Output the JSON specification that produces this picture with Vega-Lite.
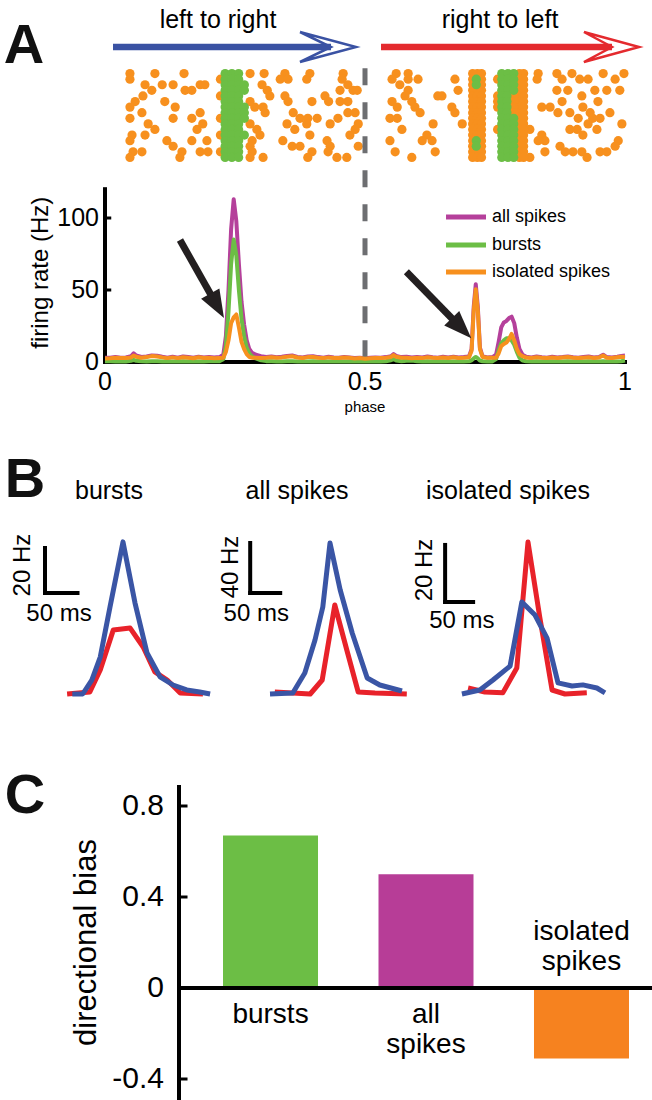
{
"$schema":"https://vega.github.io/schema/vega-lite/v6.json",
"width":652,"height":1100,
"autosize":{"type":"none"},
"padding":0,
"background":"white",
"config":{"font":"Liberation Sans","view":{"stroke":null},"axis":{"grid":false}},
"datasets":{
"rate":[
{"p":0,"a":3,"b":0.5,"i":2.5},{"p":0.01,"a":3,"b":0.5,"i":2.6},{"p":0.02,"a":3.4,"b":0.4,"i":3},{"p":0.03,"a":3,"b":0.3,"i":2.7},{"p":0.04,"a":3.2,"b":0.4,"i":2.8},{"p":0.05,"a":4,"b":0.8,"i":3.2},{"p":0.055,"a":6,"b":1.5,"i":4.5},{"p":0.06,"a":4.5,"b":0.8,"i":3.7},{"p":0.07,"a":3.5,"b":0.5,"i":3},{"p":0.08,"a":3.8,"b":0.4,"i":3.4},{"p":0.09,"a":4.6,"b":0.5,"i":4.1},{"p":0.1,"a":4.4,"b":0.6,"i":3.8},{"p":0.11,"a":3.6,"b":0.4,"i":3.2},{"p":0.12,"a":3,"b":0.3,"i":2.7},{"p":0.13,"a":3.6,"b":0.4,"i":3.2},{"p":0.14,"a":3,"b":0.3,"i":2.7},{"p":0.15,"a":3.8,"b":0.5,"i":3.3},{"p":0.16,"a":3.4,"b":0.4,"i":3},{"p":0.17,"a":2.9,"b":0.3,"i":2.6},{"p":0.18,"a":3.7,"b":0.4,"i":3.3},{"p":0.19,"a":3.2,"b":0.4,"i":2.8},{"p":0.2,"a":3.5,"b":0.5,"i":3},{"p":0.21,"a":3.1,"b":0.5,"i":2.6},{"p":0.22,"a":3.4,"b":0.6,"i":2.8},{"p":0.2275,"a":5,"b":2,"i":3},{"p":0.2325,"a":18,"b":11,"i":7},{"p":0.2375,"a":50,"b":35,"i":15},{"p":0.2425,"a":92,"b":68,"i":27},{"p":0.2475,"a":113,"b":85,"i":31},{"p":0.2525,"a":98,"b":74,"i":33},{"p":0.2575,"a":68,"b":50,"i":24},{"p":0.2625,"a":42,"b":30,"i":14},{"p":0.2675,"a":26,"b":18,"i":9},{"p":0.2725,"a":15,"b":10,"i":5.5},{"p":0.2775,"a":9,"b":6,"i":3.5},{"p":0.2825,"a":6.5,"b":4,"i":3},{"p":0.29,"a":5,"b":2.5,"i":3},{"p":0.3,"a":4,"b":1.2,"i":2.8},{"p":0.31,"a":3.5,"b":0.6,"i":2.9},{"p":0.32,"a":3.8,"b":0.5,"i":3.3},{"p":0.33,"a":3.3,"b":0.4,"i":2.9},{"p":0.34,"a":3.6,"b":0.4,"i":3.2},{"p":0.35,"a":4.2,"b":0.5,"i":3.7},{"p":0.36,"a":4.5,"b":0.5,"i":4},{"p":0.37,"a":3.5,"b":0.4,"i":3.1},{"p":0.38,"a":3.1,"b":0.3,"i":2.8},{"p":0.39,"a":3.8,"b":0.4,"i":3.4},{"p":0.4,"a":4,"b":0.5,"i":3.5},{"p":0.41,"a":3.4,"b":0.4,"i":3},{"p":0.42,"a":3,"b":0.3,"i":2.7},{"p":0.43,"a":3.6,"b":0.4,"i":3.2},{"p":0.44,"a":3.2,"b":0.4,"i":2.8},{"p":0.45,"a":3,"b":0.3,"i":2.7},{"p":0.46,"a":3.5,"b":0.4,"i":3.1},{"p":0.47,"a":3.2,"b":0.3,"i":2.9},{"p":0.48,"a":2.8,"b":0.3,"i":2.5},{"p":0.49,"a":3,"b":0.3,"i":2.7},{"p":0.5,"a":2.6,"b":0.3,"i":2.3},{"p":0.51,"a":2.9,"b":0.3,"i":2.6},{"p":0.52,"a":3.2,"b":0.4,"i":2.8},{"p":0.53,"a":3,"b":0.3,"i":2.7},{"p":0.54,"a":3.4,"b":0.5,"i":2.9},{"p":0.55,"a":4,"b":1.2,"i":3.5},{"p":0.555,"a":5.5,"b":2,"i":4.8},{"p":0.56,"a":4.2,"b":1,"i":3.6},{"p":0.57,"a":3.4,"b":0.5,"i":2.9},{"p":0.58,"a":3.6,"b":0.8,"i":3},{"p":0.59,"a":3.2,"b":1,"i":2.6},{"p":0.6,"a":3.5,"b":0.5,"i":3},{"p":0.61,"a":3.1,"b":0.4,"i":2.7},{"p":0.62,"a":3.8,"b":0.5,"i":3.3},{"p":0.63,"a":3.3,"b":0.4,"i":2.9},{"p":0.64,"a":3,"b":0.3,"i":2.7},{"p":0.65,"a":3.6,"b":0.5,"i":3.1},{"p":0.66,"a":3.2,"b":0.4,"i":2.8},{"p":0.67,"a":3.7,"b":0.4,"i":3.3},{"p":0.68,"a":3.1,"b":0.3,"i":2.8},{"p":0.69,"a":3.4,"b":0.4,"i":3},{"p":0.7,"a":3.8,"b":0.5,"i":3.3},{"p":0.705,"a":9,"b":1.2,"i":7.8},{"p":0.709,"a":38,"b":2.5,"i":35.5},{"p":0.713,"a":54,"b":3.5,"i":50.5},{"p":0.717,"a":38,"b":2.5,"i":35.5},{"p":0.721,"a":10,"b":1,"i":9},{"p":0.726,"a":4,"b":0.5,"i":3.5},{"p":0.735,"a":3.2,"b":0.3,"i":2.9},{"p":0.745,"a":3.4,"b":0.4,"i":3},{"p":0.752,"a":5,"b":2,"i":3},{"p":0.757,"a":14,"b":8,"i":6},{"p":0.762,"a":24,"b":13,"i":11},{"p":0.767,"a":27.5,"b":15,"i":12.5},{"p":0.772,"a":28.5,"b":16.5,"i":13.5},{"p":0.777,"a":30.5,"b":16.5,"i":16},{"p":0.782,"a":31.5,"b":15,"i":19.5},{"p":0.787,"a":27,"b":12,"i":15},{"p":0.792,"a":17,"b":7,"i":9},{"p":0.797,"a":9,"b":3,"i":5.5},{"p":0.803,"a":5,"b":1,"i":4},{"p":0.81,"a":3.6,"b":0.5,"i":3.1},{"p":0.82,"a":3.2,"b":0.4,"i":2.8},{"p":0.83,"a":3.8,"b":0.5,"i":3.3},{"p":0.84,"a":3.3,"b":0.4,"i":2.9},{"p":0.85,"a":3,"b":0.3,"i":2.7},{"p":0.86,"a":3.6,"b":0.5,"i":3.1},{"p":0.87,"a":3.2,"b":0.4,"i":2.8},{"p":0.88,"a":3.5,"b":0.4,"i":3.1},{"p":0.89,"a":3.9,"b":0.5,"i":3.4},{"p":0.9,"a":3.3,"b":0.4,"i":2.9},{"p":0.91,"a":3,"b":0.3,"i":2.7},{"p":0.92,"a":3.4,"b":0.4,"i":3},{"p":0.93,"a":3.8,"b":0.5,"i":3.3},{"p":0.94,"a":3.1,"b":0.3,"i":2.8},{"p":0.95,"a":3.5,"b":0.4,"i":3.1},{"p":0.958,"a":5,"b":0.5,"i":4.5},{"p":0.965,"a":3.4,"b":0.4,"i":3},{"p":0.975,"a":3.2,"b":0.4,"i":2.8},{"p":0.985,"a":3.7,"b":0.4,"i":3.3},{"p":0.993,"a":4.2,"b":0.5,"i":3.7},{"p":1,"a":4.5,"b":1,"i":3.5}
],
"iso":[
{"p":0.048,"t":1},{"p":0.096,"t":1},{"p":0.152,"t":1},{"p":0.306,"t":1},{"p":0.346,"t":1},{"p":0.394,"t":1},{"p":0.458,"t":1},{"p":0.56,"t":1},{"p":0.583,"t":1},{"p":0.833,"t":1},{"p":0.869,"t":1},{"p":0.898,"t":1},{"p":0.958,"t":1},{"p":0.998,"t":1},
{"p":0.048,"t":2},{"p":0.077,"t":3},{"p":0.11,"t":3},{"p":0.131,"t":3},{"p":0.183,"t":3},{"p":0.192,"t":3},{"p":0.09,"t":4},{"p":0.073,"t":5},{"p":0.058,"t":6},{"p":0.048,"t":7},{"p":0.115,"t":6},{"p":0.154,"t":4},{"p":0.167,"t":4},{"p":0.071,"t":8},{"p":0.048,"t":9},{"p":0.135,"t":7},{"p":0.131,"t":9},{"p":0.183,"t":8},{"p":0.167,"t":9},{"p":0.083,"t":10},{"p":0.096,"t":11},{"p":0.052,"t":12},{"p":0.077,"t":12},{"p":0.119,"t":13},{"p":0.177,"t":11},{"p":0.188,"t":10},{"p":0.167,"t":13},{"p":0.048,"t":13},{"p":0.054,"t":15},{"p":0.071,"t":15},{"p":0.131,"t":14},{"p":0.148,"t":15},{"p":0.183,"t":15},{"p":0.198,"t":15},{"p":0.048,"t":16},{"p":0.144,"t":16},{"p":0.196,"t":13},
{"p":0.302,"t":3},{"p":0.312,"t":4},{"p":0.317,"t":5},{"p":0.337,"t":2},{"p":0.352,"t":2},{"p":0.388,"t":2},{"p":0.346,"t":5},{"p":0.352,"t":6},{"p":0.398,"t":6},{"p":0.423,"t":5},{"p":0.43,"t":6},{"p":0.452,"t":4},{"p":0.456,"t":2},{"p":0.467,"t":3},{"p":0.477,"t":4},{"p":0.485,"t":4},{"p":0.452,"t":6},{"p":0.467,"t":6},{"p":0.288,"t":7},{"p":0.304,"t":7},{"p":0.308,"t":8},{"p":0.362,"t":8},{"p":0.375,"t":9},{"p":0.39,"t":9},{"p":0.408,"t":9},{"p":0.35,"t":10},{"p":0.365,"t":11},{"p":0.388,"t":10},{"p":0.433,"t":10},{"p":0.448,"t":9},{"p":0.467,"t":8},{"p":0.481,"t":8},{"p":0.487,"t":10},{"p":0.481,"t":11},{"p":0.292,"t":11},{"p":0.298,"t":12},{"p":0.342,"t":13},{"p":0.36,"t":14},{"p":0.375,"t":14},{"p":0.394,"t":12},{"p":0.427,"t":13},{"p":0.433,"t":14},{"p":0.398,"t":15},{"p":0.39,"t":16},{"p":0.429,"t":15},{"p":0.446,"t":16},{"p":0.465,"t":16},{"p":0.487,"t":14},{"p":0.471,"t":12},{"p":0.304,"t":16},{"p":0.283,"t":13},{"p":0.283,"t":15},
{"p":0.552,"t":2},{"p":0.567,"t":3},{"p":0.583,"t":2},{"p":0.602,"t":2},{"p":0.673,"t":2},{"p":0.583,"t":4},{"p":0.577,"t":5},{"p":0.59,"t":6},{"p":0.552,"t":6},{"p":0.562,"t":7},{"p":0.596,"t":7},{"p":0.606,"t":8},{"p":0.64,"t":5},{"p":0.648,"t":5},{"p":0.679,"t":4},{"p":0.667,"t":7},{"p":0.673,"t":8},{"p":0.687,"t":10},{"p":0.548,"t":9},{"p":0.562,"t":9},{"p":0.571,"t":11},{"p":0.631,"t":10},{"p":0.619,"t":12},{"p":0.629,"t":13},{"p":0.61,"t":13},{"p":0.548,"t":13},{"p":0.558,"t":15},{"p":0.635,"t":15},{"p":0.59,"t":16},
{"p":0.831,"t":2},{"p":0.879,"t":2},{"p":0.913,"t":2},{"p":0.929,"t":2},{"p":0.981,"t":2},{"p":0.869,"t":4},{"p":0.89,"t":4},{"p":0.917,"t":5},{"p":0.942,"t":4},{"p":0.965,"t":4},{"p":0.99,"t":4},{"p":0.84,"t":7},{"p":0.856,"t":7},{"p":0.871,"t":8},{"p":0.894,"t":8},{"p":0.879,"t":6},{"p":0.919,"t":7},{"p":0.933,"t":8},{"p":0.948,"t":6},{"p":0.971,"t":8},{"p":0.91,"t":9},{"p":0.938,"t":9},{"p":0.952,"t":9},{"p":0.994,"t":10},{"p":0.817,"t":11},{"p":0.894,"t":11},{"p":0.908,"t":11},{"p":0.929,"t":10},{"p":0.946,"t":11},{"p":0.919,"t":12},{"p":0.987,"t":13},{"p":0.84,"t":12},{"p":0.846,"t":13},{"p":0.833,"t":13},{"p":0.875,"t":14},{"p":0.885,"t":15},{"p":0.9,"t":15},{"p":0.917,"t":15},{"p":0.927,"t":16},{"p":0.846,"t":15},{"p":0.952,"t":15},{"p":0.965,"t":15},{"p":0.981,"t":14},{"p":0.817,"t":16},
{"p":0.222,"t":2},{"p":0.222,"t":5},{"p":0.222,"t":9},{"p":0.222,"t":12},{"p":0.222,"t":15},{"p":0.279,"t":1},{"p":0.279,"t":6},{"p":0.279,"t":10},{"p":0.279,"t":14},{"p":0.279,"t":16},
{"p":0.707,"t":1},{"p":0.716,"t":1},{"p":0.724,"t":1},{"p":0.707,"t":2},{"p":0.716,"t":2},{"p":0.724,"t":2},{"p":0.707,"t":3},{"p":0.716,"t":3},{"p":0.724,"t":3},{"p":0.707,"t":4},{"p":0.716,"t":4},{"p":0.724,"t":4},{"p":0.707,"t":5},{"p":0.716,"t":5},{"p":0.724,"t":5},{"p":0.707,"t":6},{"p":0.716,"t":6},{"p":0.724,"t":6},{"p":0.707,"t":7},{"p":0.716,"t":7},{"p":0.724,"t":7},{"p":0.707,"t":8},{"p":0.716,"t":8},{"p":0.724,"t":8},{"p":0.707,"t":9},{"p":0.716,"t":9},{"p":0.724,"t":9},{"p":0.707,"t":10},{"p":0.716,"t":10},{"p":0.724,"t":10},{"p":0.707,"t":11},{"p":0.716,"t":11},{"p":0.724,"t":11},{"p":0.707,"t":12},{"p":0.716,"t":12},{"p":0.724,"t":12},{"p":0.707,"t":13},{"p":0.716,"t":13},{"p":0.724,"t":13},{"p":0.707,"t":14},{"p":0.716,"t":14},{"p":0.724,"t":14},{"p":0.707,"t":15},{"p":0.716,"t":15},{"p":0.724,"t":15},{"p":0.707,"t":16},{"p":0.716,"t":16},{"p":0.724,"t":16},
{"p":0.797,"t":1},{"p":0.805,"t":1},{"p":0.797,"t":2},{"p":0.805,"t":2},{"p":0.797,"t":3},{"p":0.805,"t":3},{"p":0.797,"t":4},{"p":0.805,"t":4},{"p":0.797,"t":5},{"p":0.805,"t":5},{"p":0.797,"t":6},{"p":0.805,"t":6},{"p":0.797,"t":7},{"p":0.805,"t":7},{"p":0.797,"t":8},{"p":0.805,"t":8},{"p":0.797,"t":9},{"p":0.805,"t":9},{"p":0.797,"t":10},{"p":0.805,"t":10},{"p":0.797,"t":11},{"p":0.805,"t":11},{"p":0.797,"t":12},{"p":0.805,"t":12},{"p":0.797,"t":13},{"p":0.805,"t":13},{"p":0.797,"t":14},{"p":0.805,"t":14},{"p":0.797,"t":15},{"p":0.805,"t":15},{"p":0.797,"t":16},{"p":0.805,"t":16},
{"p":0.786,"t":5},{"p":0.786,"t":6},{"p":0.786,"t":7},{"p":0.786,"t":8},{"p":0.755,"t":2},{"p":0.755,"t":5},{"p":0.755,"t":6},{"p":0.755,"t":7},{"p":0.755,"t":11}
],
"burst":[
{"p":0.231,"t":1},{"p":0.244,"t":1},{"p":0.257,"t":1},{"p":0.231,"t":2},{"p":0.244,"t":2},{"p":0.257,"t":2},{"p":0.231,"t":3},{"p":0.244,"t":3},{"p":0.257,"t":3},{"p":0.231,"t":4},{"p":0.244,"t":4},{"p":0.257,"t":4},{"p":0.231,"t":5},{"p":0.244,"t":5},{"p":0.257,"t":5},{"p":0.231,"t":6},{"p":0.244,"t":6},{"p":0.257,"t":6},{"p":0.231,"t":7},{"p":0.244,"t":7},{"p":0.257,"t":7},{"p":0.231,"t":8},{"p":0.244,"t":8},{"p":0.257,"t":8},{"p":0.231,"t":9},{"p":0.244,"t":9},{"p":0.257,"t":9},{"p":0.231,"t":10},{"p":0.244,"t":10},{"p":0.257,"t":10},{"p":0.231,"t":11},{"p":0.244,"t":11},{"p":0.257,"t":11},{"p":0.231,"t":12},{"p":0.244,"t":12},{"p":0.257,"t":12},{"p":0.231,"t":13},{"p":0.244,"t":13},{"p":0.257,"t":13},{"p":0.231,"t":14},{"p":0.244,"t":14},{"p":0.257,"t":14},{"p":0.231,"t":15},{"p":0.244,"t":15},{"p":0.257,"t":15},{"p":0.231,"t":16},{"p":0.244,"t":16},{"p":0.257,"t":16},
{"p":0.268,"t":3},{"p":0.268,"t":4},{"p":0.268,"t":7},{"p":0.268,"t":8},{"p":0.268,"t":9},{"p":0.268,"t":12},
{"p":0.714,"t":2},{"p":0.714,"t":3},{"p":0.714,"t":13},{"p":0.714,"t":14},
{"p":0.763,"t":1},{"p":0.775,"t":1},{"p":0.786,"t":1},{"p":0.763,"t":2},{"p":0.775,"t":2},{"p":0.786,"t":2},{"p":0.763,"t":3},{"p":0.775,"t":3},{"p":0.786,"t":3},{"p":0.763,"t":4},{"p":0.775,"t":4},{"p":0.786,"t":4},{"p":0.763,"t":5},{"p":0.773,"t":5},{"p":0.763,"t":6},{"p":0.773,"t":6},{"p":0.763,"t":7},{"p":0.773,"t":7},{"p":0.763,"t":8},{"p":0.773,"t":8},{"p":0.763,"t":9},{"p":0.775,"t":9},{"p":0.786,"t":9},{"p":0.763,"t":10},{"p":0.775,"t":10},{"p":0.786,"t":10},{"p":0.763,"t":11},{"p":0.775,"t":11},{"p":0.786,"t":11},{"p":0.763,"t":12},{"p":0.775,"t":12},{"p":0.786,"t":12},{"p":0.763,"t":13},{"p":0.775,"t":13},{"p":0.786,"t":13},{"p":0.763,"t":14},{"p":0.775,"t":14},{"p":0.786,"t":14},{"p":0.763,"t":15},{"p":0.775,"t":15},{"p":0.786,"t":15},{"p":0.763,"t":16},{"p":0.775,"t":16},{"p":0.786,"t":16}
],
"psth":[
{"g":"bursts","d":"L","ms":-78,"hz":0},{"g":"bursts","d":"L","ms":-62,"hz":0},{"g":"bursts","d":"L","ms":-48,"hz":6.2},{"g":"bursts","d":"L","ms":-35,"hz":16.4},{"g":"bursts","d":"L","ms":-20,"hz":38.7},{"g":"bursts","d":"L","ms":0,"hz":67.6},{"g":"bursts","d":"L","ms":18.5,"hz":40.4},{"g":"bursts","d":"L","ms":37,"hz":18.2},{"g":"bursts","d":"L","ms":57,"hz":7.6},{"g":"bursts","d":"L","ms":77,"hz":4},{"g":"bursts","d":"L","ms":98,"hz":1.8},{"g":"bursts","d":"L","ms":118,"hz":0.9},{"g":"bursts","d":"L","ms":134,"hz":0},
{"g":"bursts","d":"R","ms":-86,"hz":0},{"g":"bursts","d":"R","ms":-51,"hz":0.9},{"g":"bursts","d":"R","ms":-35,"hz":10.7},{"g":"bursts","d":"R","ms":-15,"hz":28.4},{"g":"bursts","d":"R","ms":11,"hz":29.3},{"g":"bursts","d":"R","ms":31,"hz":20.9},{"g":"bursts","d":"R","ms":49,"hz":9.8},{"g":"bursts","d":"R","ms":68,"hz":6.2},{"g":"bursts","d":"R","ms":88,"hz":0.4},{"g":"bursts","d":"R","ms":123,"hz":0},
{"g":"all","d":"L","ms":-100,"hz":0},{"g":"all","d":"L","ms":-62,"hz":0.8},{"g":"all","d":"L","ms":-42,"hz":16.8},{"g":"all","d":"L","ms":-25,"hz":43.2},{"g":"all","d":"L","ms":-12,"hz":69.6},{"g":"all","d":"L","ms":0,"hz":120.8},{"g":"all","d":"L","ms":17,"hz":83.2},{"g":"all","d":"L","ms":37,"hz":48.8},{"g":"all","d":"L","ms":62,"hz":12.8},{"g":"all","d":"L","ms":83,"hz":7.2},{"g":"all","d":"L","ms":120,"hz":2.4},
{"g":"all","d":"R","ms":-92,"hz":1.6},{"g":"all","d":"R","ms":-33,"hz":0},{"g":"all","d":"R","ms":-13,"hz":11.2},{"g":"all","d":"R","ms":8,"hz":71.2},{"g":"all","d":"R","ms":28,"hz":35.2},{"g":"all","d":"R","ms":47,"hz":1.6},{"g":"all","d":"R","ms":75,"hz":0.8},{"g":"all","d":"R","ms":128,"hz":0},
{"g":"iso","d":"R","ms":-107,"hz":2.1},{"g":"iso","d":"R","ms":-77,"hz":0.7},{"g":"iso","d":"R","ms":-45,"hz":0.4},{"g":"iso","d":"R","ms":-20,"hz":9.1},{"g":"iso","d":"R","ms":0,"hz":53.3},{"g":"iso","d":"R","ms":21,"hz":27},{"g":"iso","d":"R","ms":43,"hz":1.4},{"g":"iso","d":"R","ms":66,"hz":0},{"g":"iso","d":"R","ms":105,"hz":0.4},
{"g":"iso","d":"L","ms":-118,"hz":0},{"g":"iso","d":"L","ms":-86,"hz":1.4},{"g":"iso","d":"L","ms":-62.5,"hz":4.9},{"g":"iso","d":"L","ms":-32,"hz":9.8},{"g":"iso","d":"L","ms":-11,"hz":32.3},{"g":"iso","d":"L","ms":12.5,"hz":27.7},{"g":"iso","d":"L","ms":34,"hz":19.6},{"g":"iso","d":"L","ms":53.6,"hz":3.9},{"g":"iso","d":"L","ms":78.6,"hz":2.8},{"g":"iso","d":"L","ms":98,"hz":3.2},{"g":"iso","d":"L","ms":123,"hz":2.1},{"g":"iso","d":"L","ms":137.5,"hz":0.4}
],
"bars":[
{"g":"bursts","ms":-120,"ms2":-120,"hz":44.9,"hz2":64.9},{"g":"bursts","ms":-120,"ms2":-70,"hz":44.9,"hz2":44.9},
{"g":"all","ms":-133,"ms2":-133,"hz":80.8,"hz2":120.8},{"g":"all","ms":-133,"ms2":-83,"hz":80.8,"hz2":80.8},
{"g":"iso","ms":-148,"ms2":-148,"hz":32.3,"hz2":52.3},{"g":"iso","ms":-148,"ms2":-98,"hz":32.3,"hz2":32.3}
],
"btext":[
{"g":"bursts","k":"h","ms":-98.5,"hz":32.4,"txt":"50 ms"},{"g":"bursts","k":"v","ms":-154,"hz":57.3,"txt":"20 Hz"},{"g":"bursts","k":"title","ms":-21.5,"hz":86.7,"txt":"bursts"},
{"g":"all","k":"h","ms":-123,"hz":58.4,"txt":"50 ms"},{"g":"all","k":"v","ms":-165,"hz":101.6,"txt":"40 Hz"},{"g":"all","k":"title","ms":-55,"hz":156,"txt":"all spikes"},
{"g":"iso","k":"h","ms":-118,"hz":23.2,"txt":"50 ms"},{"g":"iso","k":"v","ms":-184,"hz":43.5,"txt":"20 Hz"},{"g":"iso","k":"title","ms":-35.7,"hz":68.4,"txt":"isolated spikes"}
],
"bias":[{"cat":"bursts","v":0.67},{"cat":"all spikes","v":0.5},{"cat":"isolated spikes","v":-0.31}]
},
"resolve":{"scale":{"x":"independent","y":"independent","color":"independent"}},
"layer":[
{
"layer":[
{"data":{"values":[{"c":"L","p":0.0154,"p2":0.4346,"y":0},{"c":"R","p":0.5308,"p2":0.975,"y":0}]},
"mark":{"type":"rule","strokeWidth":6.5},
"encoding":{"x":{"field":"p","type":"quantitative","scale":{"domain":[0,1],"range":[105,625],"nice":false},"axis":null},"x2":{"field":"p2"},"y":{"field":"y","type":"quantitative","scale":{"domain":[-1,1],"range":[62,32],"nice":false},"axis":null},"color":{"field":"c","type":"nominal","scale":{"domain":["L","R"],"range":["#3A52A3","#E42A2E"]},"legend":null}}},
{"data":{"values":[{"c":"L","i":0,"p":0.375,"y":1},{"c":"L","i":1,"p":0.4827,"y":0},{"c":"L","i":2,"p":0.375,"y":-1},{"c":"L","i":3,"p":0.4346,"y":0},{"c":"L","i":4,"p":0.375,"y":1},{"c":"R","i":0,"p":0.921,"y":1},{"c":"R","i":1,"p":1.027,"y":0},{"c":"R","i":2,"p":0.921,"y":-1},{"c":"R","i":3,"p":0.975,"y":0},{"c":"R","i":4,"p":0.921,"y":1}]},
"mark":{"type":"line","strokeWidth":2.5,"strokeJoin":"miter"},
"encoding":{"x":{"field":"p","type":"quantitative","scale":{"domain":[0,1],"range":[105,625],"nice":false},"axis":null},"y":{"field":"y","type":"quantitative","scale":{"domain":[-1,1],"range":[62,32],"nice":false},"axis":null},"color":{"field":"c","type":"nominal","scale":{"domain":["L","R"],"range":["#3A52A3","#E42A2E"]},"legend":null},"order":{"field":"i","type":"quantitative"}}},
{"data":{"values":[{"txt":"left to right","p":0.2173,"y":1.267},{"txt":"right to left","p":0.7596,"y":1.267}]},
"mark":{"type":"text","fontSize":25,"align":"center","baseline":"alphabetic","color":"black"},
"encoding":{"x":{"field":"p","type":"quantitative","scale":{"domain":[0,1],"range":[105,625],"nice":false},"axis":null},"y":{"field":"y","type":"quantitative","scale":{"domain":[-1,1],"range":[62,32],"nice":false},"axis":null},"text":{"field":"txt"}}},
{"data":{"values":[{"txt":"A","p":-0.1558,"y":-1.067}]},
"mark":{"type":"text","fontSize":56,"fontWeight":"bold","align":"center","baseline":"alphabetic","color":"#111111"},
"encoding":{"x":{"field":"p","type":"quantitative","scale":{"domain":[0,1],"range":[105,625],"nice":false},"axis":null},"y":{"field":"y","type":"quantitative","scale":{"domain":[-1,1],"range":[62,32],"nice":false},"axis":null},"text":{"field":"txt"}}}
]
},
{
"layer":[
{"data":{"name":"iso"},"mark":{"type":"circle","size":85,"color":"#F7901E","opacity":1},
"encoding":{"x":{"field":"p","type":"quantitative","scale":{"domain":[0,1],"range":[105,625],"nice":false},"axis":null},"y":{"field":"t","type":"quantitative","scale":{"domain":[0,17],"range":[68,163],"nice":false},"axis":null}}},
{"data":{"name":"burst"},"mark":{"type":"circle","size":85,"color":"#6CBE45","opacity":1},
"encoding":{"x":{"field":"p","type":"quantitative","scale":{"domain":[0,1],"range":[105,625],"nice":false},"axis":null},"y":{"field":"t","type":"quantitative","scale":{"domain":[0,17],"range":[68,163],"nice":false},"axis":null}}}
]
},
{
"layer":[
{"data":{"values":[{"p":0,"p2":0,"hz":0,"hz2":120},{"p":0,"p2":1,"hz":0,"hz2":0}]},"mark":{"type":"rule","strokeWidth":4,"color":"black","strokeCap":"square"},
"encoding":{"x":{"field":"p","type":"quantitative","scale":{"domain":[0,1],"range":[105,625],"nice":false},"axis":null},"x2":{"field":"p2"},"y":{"field":"hz","type":"quantitative","scale":{"domain":[0,120],"range":[362,189.2],"nice":false,"zero":false},"axis":null},"y2":{"field":"hz2"}}},
{"data":{"values":[{"p":0,"p2":0.012,"hz":50},{"p":0,"p2":0.012,"hz":100}]},"mark":{"type":"rule","strokeWidth":3,"color":"black"},
"encoding":{"x":{"field":"p","type":"quantitative","scale":{"domain":[0,1],"range":[105,625],"nice":false},"axis":null},"x2":{"field":"p2"},"y":{"field":"hz","type":"quantitative","scale":{"domain":[0,120],"range":[362,189.2],"nice":false,"zero":false},"axis":null}}},
{"data":{"values":[{"hz":0,"lab":"0"},{"hz":50,"lab":"50"},{"hz":100,"lab":"100"}]},"mark":{"type":"text","align":"right","baseline":"middle","dx":-6,"fontSize":25,"color":"black"},
"encoding":{"x":{"datum":0,"type":"quantitative","scale":{"domain":[0,1],"range":[105,625],"nice":false},"axis":null},"y":{"field":"hz","type":"quantitative","scale":{"domain":[0,120],"range":[362,189.2],"nice":false,"zero":false},"axis":null},"text":{"field":"lab"}}},
{"data":{"values":[{"p":0,"lab":"0"},{"p":0.5,"lab":"0.5"},{"p":1,"lab":"1"}]},"mark":{"type":"text","align":"center","baseline":"top","dy":8,"fontSize":25,"color":"black"},
"encoding":{"x":{"field":"p","type":"quantitative","scale":{"domain":[0,1],"range":[105,625],"nice":false},"axis":null},"y":{"datum":0,"type":"quantitative","scale":{"domain":[0,120],"range":[362,189.2],"nice":false,"zero":false},"axis":null},"text":{"field":"lab"}}},
{"data":{"values":[{"p":0.5,"lab":"phase"}]},"mark":{"type":"text","align":"center","baseline":"top","dy":38,"fontSize":15,"color":"black"},
"encoding":{"x":{"field":"p","type":"quantitative","scale":{"domain":[0,1],"range":[105,625],"nice":false},"axis":null},"y":{"datum":0,"type":"quantitative","scale":{"domain":[0,120],"range":[362,189.2],"nice":false,"zero":false},"axis":null},"text":{"field":"lab"}}},
{"data":{"values":[{"p":-0.123,"hz":62,"lab":"firing rate (Hz)"}]},"mark":{"type":"text","align":"center","baseline":"middle","angle":270,"fontSize":24,"color":"black"},
"encoding":{"x":{"field":"p","type":"quantitative","scale":{"domain":[0,1],"range":[105,625],"nice":false},"axis":null},"y":{"field":"hz","type":"quantitative","scale":{"domain":[0,120],"range":[362,189.2],"nice":false,"zero":false},"axis":null},"text":{"field":"lab"}}},
{"data":{"name":"rate"},"mark":{"type":"line","color":"#B5409B","strokeWidth":4,"strokeJoin":"round"},
"encoding":{"x":{"field":"p","type":"quantitative","scale":{"domain":[0,1],"range":[105,625],"nice":false},"axis":null},"y":{"field":"a","type":"quantitative","scale":{"domain":[0,120],"range":[362,189.2],"nice":false,"zero":false},"axis":null}}},
{"data":{"values":[{"p":0.5,"top":204,"bot":0}]},"mark":{"type":"rule","color":"#6D6E71","strokeWidth":5,"strokeDash":[17,17]},
"encoding":{"x":{"field":"p","type":"quantitative","scale":{"domain":[0,1],"range":[105,625],"nice":false},"axis":null},"y":{"field":"top","type":"quantitative","scale":{"domain":[0,120],"range":[362,189.2],"nice":false,"zero":false},"axis":null},"y2":{"field":"bot"}}},
{"data":{"name":"rate"},"mark":{"type":"line","color":"#6CBE45","strokeWidth":4,"strokeJoin":"round"},
"encoding":{"x":{"field":"p","type":"quantitative","scale":{"domain":[0,1],"range":[105,625],"nice":false},"axis":null},"y":{"field":"b","type":"quantitative","scale":{"domain":[0,120],"range":[362,189.2],"nice":false,"zero":false},"axis":null}}},
{"data":{"name":"rate"},"mark":{"type":"line","color":"#F7901E","strokeWidth":4,"strokeJoin":"round"},
"encoding":{"x":{"field":"p","type":"quantitative","scale":{"domain":[0,1],"range":[105,625],"nice":false},"axis":null},"y":{"field":"i","type":"quantitative","scale":{"domain":[0,120],"range":[362,189.2],"nice":false,"zero":false},"axis":null}}},
{"data":{"values":[{"p":0.1442,"hz":84.7,"p2":0.2156,"hz2":39.0},{"p":0.5796,"hz":62.7,"p2":0.6856,"hz2":23.4}]},"mark":{"type":"rule","color":"#231F20","strokeWidth":7},
"encoding":{"x":{"field":"p","type":"quantitative","scale":{"domain":[0,1],"range":[105,625],"nice":false},"axis":null},"y":{"field":"hz","type":"quantitative","scale":{"domain":[0,120],"range":[362,189.2],"nice":false,"zero":false},"axis":null},"x2":{"field":"p2"},"y2":{"field":"hz2"}}},
{"data":{"values":[{"p":0.2156,"hz":39.0}]},"mark":{"type":"point","shape":"M0,-1L0.75,1L-0.75,1Z","filled":true,"color":"#231F20","opacity":1,"size":784,"angle":150.6},
"encoding":{"x":{"field":"p","type":"quantitative","scale":{"domain":[0,1],"range":[105,625],"nice":false},"axis":null},"y":{"field":"hz","type":"quantitative","scale":{"domain":[0,120],"range":[362,189.2],"nice":false,"zero":false},"axis":null}}},
{"data":{"values":[{"p":0.6856,"hz":23.4}]},"mark":{"type":"point","shape":"M0,-1L0.75,1L-0.75,1Z","filled":true,"color":"#231F20","opacity":1,"size":784,"angle":135.7},
"encoding":{"x":{"field":"p","type":"quantitative","scale":{"domain":[0,1],"range":[105,625],"nice":false},"axis":null},"y":{"field":"hz","type":"quantitative","scale":{"domain":[0,120],"range":[362,189.2],"nice":false,"zero":false},"axis":null}}},
{"data":{"values":[{"s":"all spikes","p":0.6558,"p2":0.7327,"tp":0.744,"hz":100.7},{"s":"bursts","p":0.6558,"p2":0.7327,"tp":0.744,"hz":81.3},{"s":"isolated spikes","p":0.6558,"p2":0.7327,"tp":0.744,"hz":62.5}]},
"layer":[
{"mark":{"type":"rule","strokeWidth":5},
"encoding":{"x":{"field":"p","type":"quantitative","scale":{"domain":[0,1],"range":[105,625],"nice":false},"axis":null},"x2":{"field":"p2"},"y":{"field":"hz","type":"quantitative","scale":{"domain":[0,120],"range":[362,189.2],"nice":false,"zero":false},"axis":null},"color":{"field":"s","type":"nominal","scale":{"domain":["all spikes","bursts","isolated spikes"],"range":["#B5409B","#6CBE45","#F7901E"]},"legend":null}}},
{"mark":{"type":"text","fontSize":18,"align":"left","baseline":"middle","color":"black"},
"encoding":{"x":{"field":"tp","type":"quantitative","scale":{"domain":[0,1],"range":[105,625],"nice":false},"axis":null},"y":{"field":"hz","type":"quantitative","scale":{"domain":[0,120],"range":[362,189.2],"nice":false,"zero":false},"axis":null},"text":{"field":"s"}}}
]}
]
},
{
"layer":[
{"data":{"name":"psth"},"transform":[{"filter":"datum.g == 'bursts' && datum.d == 'R'"}],"mark":{"type":"line","strokeWidth":5,"color":"#E8222A","strokeJoin":"round"},
"encoding":{"x":{"field":"ms","type":"quantitative","scale":{"domain":[-200,200],"range":[-7,253],"nice":false},"axis":null},"y":{"field":"hz","type":"quantitative","scale":{"domain":[0,70],"range":[694,536.5],"nice":false,"zero":false},"axis":null}}},
{"data":{"name":"psth"},"transform":[{"filter":"datum.g == 'bursts' && datum.d == 'L'"}],"mark":{"type":"line","strokeWidth":5,"color":"#3A55A5","strokeJoin":"round"},
"encoding":{"x":{"field":"ms","type":"quantitative","scale":{"domain":[-200,200],"range":[-7,253],"nice":false},"axis":null},"y":{"field":"hz","type":"quantitative","scale":{"domain":[0,70],"range":[694,536.5],"nice":false,"zero":false},"axis":null}}},
{"data":{"name":"bars"},"transform":[{"filter":"datum.g == 'bursts'"}],"mark":{"type":"rule","strokeWidth":4,"color":"black","strokeCap":"square"},
"encoding":{"x":{"field":"ms","type":"quantitative","scale":{"domain":[-200,200],"range":[-7,253],"nice":false},"axis":null},"x2":{"field":"ms2"},"y":{"field":"hz","type":"quantitative","scale":{"domain":[0,70],"range":[694,536.5],"nice":false,"zero":false},"axis":null},"y2":{"field":"hz2"}}},
{"data":{"name":"btext"},"transform":[{"filter":"datum.g == 'bursts' && datum.k == 'h'"}],"mark":{"type":"text","fontSize":24,"align":"center","baseline":"alphabetic","color":"black"},
"encoding":{"x":{"field":"ms","type":"quantitative","scale":{"domain":[-200,200],"range":[-7,253],"nice":false},"axis":null},"y":{"field":"hz","type":"quantitative","scale":{"domain":[0,70],"range":[694,536.5],"nice":false,"zero":false},"axis":null},"text":{"field":"txt"}}},
{"data":{"name":"btext"},"transform":[{"filter":"datum.g == 'bursts' && datum.k == 'v'"}],"mark":{"type":"text","fontSize":24,"align":"center","baseline":"middle","angle":270,"color":"black"},
"encoding":{"x":{"field":"ms","type":"quantitative","scale":{"domain":[-200,200],"range":[-7,253],"nice":false},"axis":null},"y":{"field":"hz","type":"quantitative","scale":{"domain":[0,70],"range":[694,536.5],"nice":false,"zero":false},"axis":null},"text":{"field":"txt"}}},
{"data":{"name":"btext"},"transform":[{"filter":"datum.g == 'bursts' && datum.k == 'title'"}],"mark":{"type":"text","fontSize":25,"align":"center","baseline":"alphabetic","color":"black"},
"encoding":{"x":{"field":"ms","type":"quantitative","scale":{"domain":[-200,200],"range":[-7,253],"nice":false},"axis":null},"y":{"field":"hz","type":"quantitative","scale":{"domain":[0,70],"range":[694,536.5],"nice":false,"zero":false},"axis":null},"text":{"field":"txt"}}},
{"data":{"values":[{"txt":"B","ms":-150.8,"hz":87.6},{"txt":"C","ms":-150.8,"hz":-52.9}]},"mark":{"type":"text","fontSize":56,"fontWeight":"bold","align":"center","baseline":"alphabetic","color":"#111111"},
"encoding":{"x":{"field":"ms","type":"quantitative","scale":{"domain":[-200,200],"range":[-7,253],"nice":false},"axis":null},"y":{"field":"hz","type":"quantitative","scale":{"domain":[0,70],"range":[694,536.5],"nice":false,"zero":false},"axis":null},"text":{"field":"txt"}}}
]
},
{
"layer":[
{"data":{"name":"psth"},"transform":[{"filter":"datum.g == 'all' && datum.d == 'R'"}],"mark":{"type":"line","strokeWidth":5,"color":"#E8222A","strokeJoin":"round"},
"encoding":{"x":{"field":"ms","type":"quantitative","scale":{"domain":[-200,200],"range":[210,450],"nice":false},"axis":null},"y":{"field":"hz","type":"quantitative","scale":{"domain":[0,130],"range":[694,531.5],"nice":false,"zero":false},"axis":null}}},
{"data":{"name":"psth"},"transform":[{"filter":"datum.g == 'all' && datum.d == 'L'"}],"mark":{"type":"line","strokeWidth":5,"color":"#3A55A5","strokeJoin":"round"},
"encoding":{"x":{"field":"ms","type":"quantitative","scale":{"domain":[-200,200],"range":[210,450],"nice":false},"axis":null},"y":{"field":"hz","type":"quantitative","scale":{"domain":[0,130],"range":[694,531.5],"nice":false,"zero":false},"axis":null}}},
{"data":{"name":"bars"},"transform":[{"filter":"datum.g == 'all'"}],"mark":{"type":"rule","strokeWidth":4,"color":"black","strokeCap":"square"},
"encoding":{"x":{"field":"ms","type":"quantitative","scale":{"domain":[-200,200],"range":[210,450],"nice":false},"axis":null},"x2":{"field":"ms2"},"y":{"field":"hz","type":"quantitative","scale":{"domain":[0,130],"range":[694,531.5],"nice":false,"zero":false},"axis":null},"y2":{"field":"hz2"}}},
{"data":{"name":"btext"},"transform":[{"filter":"datum.g == 'all' && datum.k == 'h'"}],"mark":{"type":"text","fontSize":24,"align":"center","baseline":"alphabetic","color":"black"},
"encoding":{"x":{"field":"ms","type":"quantitative","scale":{"domain":[-200,200],"range":[210,450],"nice":false},"axis":null},"y":{"field":"hz","type":"quantitative","scale":{"domain":[0,130],"range":[694,531.5],"nice":false,"zero":false},"axis":null},"text":{"field":"txt"}}},
{"data":{"name":"btext"},"transform":[{"filter":"datum.g == 'all' && datum.k == 'v'"}],"mark":{"type":"text","fontSize":24,"align":"center","baseline":"middle","angle":270,"color":"black"},
"encoding":{"x":{"field":"ms","type":"quantitative","scale":{"domain":[-200,200],"range":[210,450],"nice":false},"axis":null},"y":{"field":"hz","type":"quantitative","scale":{"domain":[0,130],"range":[694,531.5],"nice":false,"zero":false},"axis":null},"text":{"field":"txt"}}},
{"data":{"name":"btext"},"transform":[{"filter":"datum.g == 'all' && datum.k == 'title'"}],"mark":{"type":"text","fontSize":25,"align":"center","baseline":"alphabetic","color":"black"},
"encoding":{"x":{"field":"ms","type":"quantitative","scale":{"domain":[-200,200],"range":[210,450],"nice":false},"axis":null},"y":{"field":"hz","type":"quantitative","scale":{"domain":[0,130],"range":[694,531.5],"nice":false,"zero":false},"axis":null},"text":{"field":"txt"}}}
]
},
{
"layer":[
{"data":{"name":"psth"},"transform":[{"filter":"datum.g == 'iso' && datum.d == 'R'"}],"mark":{"type":"line","strokeWidth":5,"color":"#E8222A","strokeJoin":"round"},
"encoding":{"x":{"field":"ms","type":"quantitative","scale":{"domain":[-200,200],"range":[416,640],"nice":false},"axis":null},"y":{"field":"hz","type":"quantitative","scale":{"domain":[0,60],"range":[694,523],"nice":false,"zero":false},"axis":null}}},
{"data":{"name":"psth"},"transform":[{"filter":"datum.g == 'iso' && datum.d == 'L'"}],"mark":{"type":"line","strokeWidth":5,"color":"#3A55A5","strokeJoin":"round"},
"encoding":{"x":{"field":"ms","type":"quantitative","scale":{"domain":[-200,200],"range":[416,640],"nice":false},"axis":null},"y":{"field":"hz","type":"quantitative","scale":{"domain":[0,60],"range":[694,523],"nice":false,"zero":false},"axis":null}}},
{"data":{"name":"bars"},"transform":[{"filter":"datum.g == 'iso'"}],"mark":{"type":"rule","strokeWidth":4,"color":"black","strokeCap":"square"},
"encoding":{"x":{"field":"ms","type":"quantitative","scale":{"domain":[-200,200],"range":[416,640],"nice":false},"axis":null},"x2":{"field":"ms2"},"y":{"field":"hz","type":"quantitative","scale":{"domain":[0,60],"range":[694,523],"nice":false,"zero":false},"axis":null},"y2":{"field":"hz2"}}},
{"data":{"name":"btext"},"transform":[{"filter":"datum.g == 'iso' && datum.k == 'h'"}],"mark":{"type":"text","fontSize":24,"align":"center","baseline":"alphabetic","color":"black"},
"encoding":{"x":{"field":"ms","type":"quantitative","scale":{"domain":[-200,200],"range":[416,640],"nice":false},"axis":null},"y":{"field":"hz","type":"quantitative","scale":{"domain":[0,60],"range":[694,523],"nice":false,"zero":false},"axis":null},"text":{"field":"txt"}}},
{"data":{"name":"btext"},"transform":[{"filter":"datum.g == 'iso' && datum.k == 'v'"}],"mark":{"type":"text","fontSize":24,"align":"center","baseline":"middle","angle":270,"color":"black"},
"encoding":{"x":{"field":"ms","type":"quantitative","scale":{"domain":[-200,200],"range":[416,640],"nice":false},"axis":null},"y":{"field":"hz","type":"quantitative","scale":{"domain":[0,60],"range":[694,523],"nice":false,"zero":false},"axis":null},"text":{"field":"txt"}}},
{"data":{"name":"btext"},"transform":[{"filter":"datum.g == 'iso' && datum.k == 'title'"}],"mark":{"type":"text","fontSize":25,"align":"center","baseline":"alphabetic","color":"black"},
"encoding":{"x":{"field":"ms","type":"quantitative","scale":{"domain":[-200,200],"range":[416,640],"nice":false},"axis":null},"y":{"field":"hz","type":"quantitative","scale":{"domain":[0,60],"range":[694,523],"nice":false,"zero":false},"axis":null},"text":{"field":"txt"}}}
]
},
{
"resolve":{"scale":{"x":"independent"}},
"layer":[
{"data":{"name":"bias"},
"layer":[
{"mark":{"type":"bar"},
"encoding":{"x":{"field":"cat","type":"nominal","sort":null,"scale":{"domain":["bursts","all spikes","isolated spikes"],"range":[179,673],"paddingInner":0.389,"paddingOuter":0.283},"axis":null},
"y":{"field":"v","type":"quantitative","scale":{"domain":[-0.4923,0.8923],"range":[1100,785],"nice":false,"zero":false},"axis":null},
"color":{"field":"cat","type":"nominal","scale":{"domain":["bursts","all spikes","isolated spikes"],"range":["#6CBE45","#B73D97","#F6821F"]},"legend":null}}},
{"transform":[{"filter":"datum.v > 0"}],"mark":{"type":"text","fontSize":28,"align":"center","baseline":"top","dy":13,"lineBreak":" ","lineHeight":30,"color":"black"},
"encoding":{"x":{"field":"cat","type":"nominal","sort":null,"scale":{"domain":["bursts","all spikes","isolated spikes"],"range":[179,673],"paddingInner":0.389,"paddingOuter":0.283},"axis":null},"y":{"datum":0,"type":"quantitative","scale":{"domain":[-0.4923,0.8923],"range":[1100,785],"nice":false,"zero":false},"axis":null},"text":{"field":"cat"}}},
{"transform":[{"filter":"datum.v < 0"}],"mark":{"type":"text","fontSize":28,"align":"center","baseline":"top","dy":-70,"lineBreak":" ","lineHeight":30,"color":"black"},
"encoding":{"x":{"field":"cat","type":"nominal","sort":null,"scale":{"domain":["bursts","all spikes","isolated spikes"],"range":[179,673],"paddingInner":0.389,"paddingOuter":0.283},"axis":null},"y":{"datum":0,"type":"quantitative","scale":{"domain":[-0.4923,0.8923],"range":[1100,785],"nice":false,"zero":false},"axis":null},"text":{"field":"cat"}}}
]},
{
"layer":[
{"data":{"values":[{"x":0,"x2":0,"y":-0.4923,"y2":0.8923},{"x":0,"x2":1,"y":0,"y2":0}]},"mark":{"type":"rule","strokeWidth":4,"color":"black"},
"encoding":{"x":{"field":"x","type":"quantitative","scale":{"domain":[0,1],"range":[179,652],"nice":false},"axis":null},"x2":{"field":"x2"},"y":{"field":"y","type":"quantitative","scale":{"domain":[-0.4923,0.8923],"range":[1100,785],"nice":false,"zero":false},"axis":null},"y2":{"field":"y2"}}},
{"data":{"values":[{"x":0,"x2":0.018,"y":-0.4},{"x":0,"x2":0.018,"y":0.4},{"x":0,"x2":0.018,"y":0.8}]},"mark":{"type":"rule","strokeWidth":3,"color":"black"},
"encoding":{"x":{"field":"x","type":"quantitative","scale":{"domain":[0,1],"range":[179,652],"nice":false},"axis":null},"x2":{"field":"x2"},"y":{"field":"y","type":"quantitative","scale":{"domain":[-0.4923,0.8923],"range":[1100,785],"nice":false,"zero":false},"axis":null}}},
{"data":{"values":[{"y":-0.4,"lab":"-0.4"},{"y":0,"lab":"0"},{"y":0.4,"lab":"0.4"},{"y":0.8,"lab":"0.8"}]},"mark":{"type":"text","align":"right","baseline":"middle","dx":-15,"fontSize":30,"color":"black"},
"encoding":{"x":{"datum":0,"type":"quantitative","scale":{"domain":[0,1],"range":[179,652],"nice":false},"axis":null},"y":{"field":"y","type":"quantitative","scale":{"domain":[-0.4923,0.8923],"range":[1100,785],"nice":false,"zero":false},"axis":null},"text":{"field":"lab"}}},
{"data":{"values":[{"x":-0.1945,"y":0.2,"lab":"directional bias"}]},"mark":{"type":"text","align":"center","baseline":"middle","angle":270,"fontSize":31,"color":"black"},
"encoding":{"x":{"field":"x","type":"quantitative","scale":{"domain":[0,1],"range":[179,652],"nice":false},"axis":null},"y":{"field":"y","type":"quantitative","scale":{"domain":[-0.4923,0.8923],"range":[1100,785],"nice":false,"zero":false},"axis":null},"text":{"field":"lab"}}}
]}
]
}
]
}
